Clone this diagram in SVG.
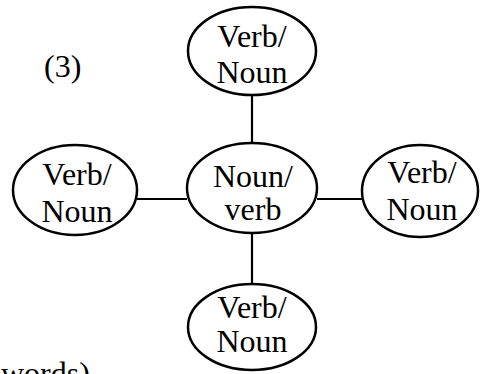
<svg xmlns="http://www.w3.org/2000/svg" width="482" height="374" viewBox="0 0 482 374">
<style>
.n ellipse{fill:#fff;stroke:#000;stroke-width:2.5}
text{font-family:"Liberation Serif","Times New Roman",serif;font-size:32px;fill:#000}
.n text{text-anchor:middle}
#edges line{stroke:#000;stroke-width:2.2}
</style>
<rect width="482" height="374" fill="#fff"/>
<g id="edges">
<line x1="252" y1="95" x2="252" y2="143"/>
<line x1="252" y1="233" x2="252" y2="284"/>
<line x1="137" y1="199" x2="187" y2="199"/>
<line x1="317" y1="199" x2="362" y2="199"/>
</g>
<g id="top" class="n"><ellipse cx="252" cy="51" rx="64" ry="44"/><text x="252" y="47">Verb/</text><text x="252" y="83">Noun</text></g>
<g id="center" class="n"><ellipse cx="252" cy="188" rx="65" ry="45"/><text x="253" y="187">Noun/</text><text x="253" y="220">verb</text></g>
<g id="left" class="n"><ellipse cx="75" cy="190" rx="62" ry="45"/><text x="77" y="185">Verb/</text><text x="77" y="222">Noun</text></g>
<g id="right" class="n"><ellipse cx="420" cy="191" rx="58" ry="46"/><text x="422" y="183">Verb/</text><text x="422" y="220">Noun</text></g>
<g id="bottom" class="n"><ellipse cx="252" cy="327" rx="64" ry="43"/><text x="252" y="318">Verb/</text><text x="252" y="352">Noun</text></g>
<text x="44" y="77">(3)</text>
<text x="1" y="384">words)</text>
</svg>
